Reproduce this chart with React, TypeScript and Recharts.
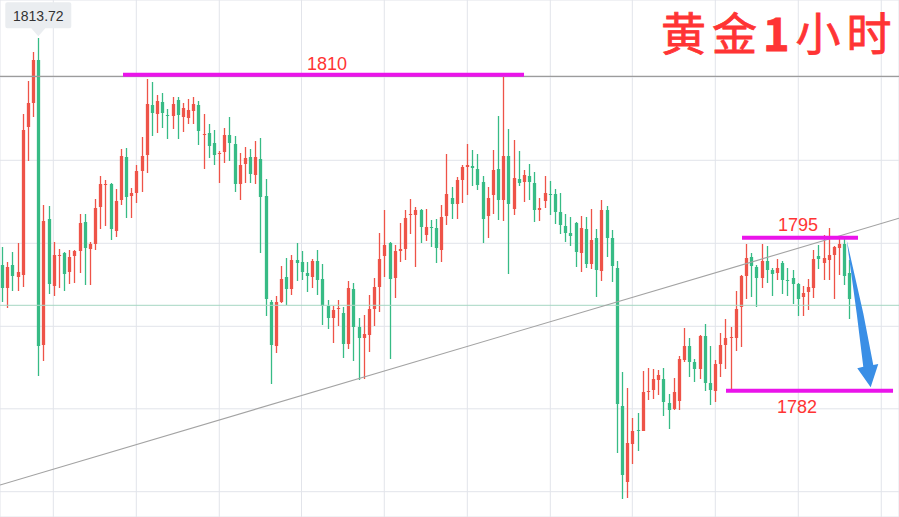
import React from "react";
import { ComposedChart, Bar, XAxis, YAxis, CartesianGrid, ReferenceLine, ReferenceDot } from "recharts";

const W = 899;
const H = 517;

const opens = [
  1791.0,1788.7,1791.0,1789.8,1790.0,1804.8,1807.2,1811.5,1783.0,1795.6,
  1788.9,1791.9,1792.2,1790.3,1791.9,1792.4,1795.3,1792.6,1793.1,1796.8,
  1799.0,1799.1,1794.4,1797.5,1801.8,1797.9,1798.2,1800.4,1802.0,1807.0,
  1806.1,1807.3,1806.0,1805.9,1807.5,1805.8,1805.7,1806.4,1807.0,1804.0,
  1804.2,1803.2,1802.1,1802.3,1804.0,1803.1,1799.1,1801.1,1801.8,1800.0,
  1801.6,1797.9,1787.3,1782.9,1787.3,1789.8,1788.6,1791.5,1791.3,1790.2,
  1789.8,1791.4,1789.6,1786.9,1785.7,1786.6,1786.2,1783.1,1788.6,1784.8,
  1783.7,1784.0,1786.6,1788.8,1791.9,1793.2,1789.7,1792.4,1792.6,1796.0,
  1796.0,1796.5,1794.0,1794.8,1794.7,1792.5,1795.9,1797.7,1797.1,1799.5,
  1800.8,1800.9,1800.6,1799.3,1795.9,1798.0,1800.6,1797.5,1801.9,1796.6,
  1799.6,1799.3,1799.9,1799.2,1796.5,1797.4,1798.1,1798.1,1796.3,1794.9,
  1794.2,1795.2,1792.2,1794.6,1791.1,1793.7,1790.4,1796.5,1793.7,1790.7,
  1776.9,1769.3,1773.1,1774.5,1774.4,1778.3,1778.5,1779.5,1779.6,1777.2,
  1776.6,1777.4,1781.5,1782.9,1781.3,1780.6,1783.9,1779.2,1778.4,1781.1,
  1783.0,1783.7,1783.7,1786.8,1789.9,1791.8,1790.8,1789.7,1791.4,1790.5,
  1790.2,1791.2,1789.5,1789.7,1789.1,1787.8,1788.3,1788.7,1791.9,1791.2,
  1791.5,1792.0,1792.7,1793.1,1790.2,
];

const closes = [
  1788.7,1790.8,1789.9,1790.3,1804.5,1807.2,1811.5,1782.9,1795.4,1789.1,
  1792.0,1792.0,1790.1,1791.8,1792.4,1795.2,1792.7,1793.1,1796.7,1799.1,
  1799.1,1794.6,1797.4,1801.9,1797.8,1798.2,1800.4,1801.9,1807.1,1806.2,
  1807.4,1806.2,1805.9,1807.1,1806.0,1806.7,1806.5,1807.1,1804.4,1804.1,
  1802.9,1802.0,1802.2,1804.0,1803.2,1799.1,1801.0,1801.7,1800.1,1801.8,
  1797.8,1787.6,1783.0,1787.3,1789.6,1788.6,1791.5,1791.2,1790.3,1789.9,
  1791.4,1789.5,1786.9,1785.7,1786.5,1786.7,1783.1,1788.7,1784.8,1783.7,
  1784.1,1786.6,1788.8,1791.6,1793.0,1789.6,1792.4,1792.6,1795.7,1796.1,
  1796.5,1794.8,1794.8,1794.7,1792.7,1795.8,1798.1,1797.1,1799.5,1800.8,
  1801.0,1800.7,1799.0,1795.6,1797.7,1800.5,1797.5,1801.9,1797.1,1799.7,
  1799.2,1800.0,1799.3,1796.5,1796.7,1798.2,1798.0,1796.3,1795.0,1794.2,
  1793.9,1792.3,1794.7,1791.1,1793.5,1790.5,1796.5,1793.7,1790.9,1777.1,
  1770.0,1773.2,1774.4,1774.4,1778.3,1778.4,1779.6,1780.0,1777.3,1776.5,
  1778.3,1781.6,1782.9,1781.3,1780.6,1783.9,1779.2,1778.5,1781.1,1783.0,
  1783.7,1783.8,1786.6,1789.9,1791.7,1790.9,1789.7,1791.4,1790.5,1790.1,
  1790.7,1789.5,1789.4,1789.1,1787.6,1788.2,1788.8,1791.6,1791.6,1791.7,
  1792.0,1792.8,1793.1,1789.9,1787.6,
];

const highs = [
  1792.8,1791.3,1792.3,1793.2,1806.1,1809.4,1812.3,1813.72,1797.0,1796.9,
  1793.3,1792.6,1792.3,1792.5,1792.5,1796.1,1796.1,1793.3,1797.6,1799.9,
  1799.5,1799.2,1798.6,1802.6,1802.7,1798.7,1801.0,1803.8,1809.6,1809.3,
  1808.0,1808.2,1806.6,1807.8,1807.8,1807.2,1807.6,1807.8,1807.4,1806.1,
  1805.1,1804.5,1802.4,1804.7,1805.8,1803.9,1802.2,1802.8,1802.6,1803.4,
  1803.7,1799.6,1787.5,1787.9,1790.9,1791.7,1792.0,1793.2,1792.4,1791.3,
  1791.6,1792.5,1791.1,1787.5,1786.9,1787.5,1786.8,1789.4,1789.2,1785.7,
  1786.0,1788.0,1789.7,1794.2,1796.5,1793.3,1793.0,1795.2,1796.5,1797.6,
  1796.8,1796.6,1796.6,1795.5,1795.6,1797.0,1802.1,1798.8,1799.8,1801.0,
  1803.1,1802.5,1802.1,1799.9,1798.8,1802.5,1805.9,1809.9,1804.6,1803.5,
  1802.4,1800.5,1801.1,1800.3,1797.7,1799.9,1799.4,1798.6,1798.2,1796.1,
  1795.8,1795.3,1795.9,1795.8,1796.6,1794.6,1797.5,1796.9,1794.5,1791.4,
  1780.3,1778.7,1775.7,1776.2,1780.4,1780.7,1780.6,1780.5,1780.7,1778.1,
  1779.7,1781.9,1784.7,1783.7,1781.6,1784.0,1785.1,1782.9,1781.5,1784.2,
  1785.6,1784.8,1788.4,1790.0,1793.1,1792.2,1791.0,1793.1,1792.9,1790.7,
  1791.6,1791.4,1790.7,1790.5,1789.2,1788.9,1789.6,1792.5,1793.0,1794.0,
  1794.7,1792.9,1793.7,1793.6,1791.5,
];

const lows = [
  1787.3,1786.7,1788.4,1788.4,1788.8,1801.4,1805.8,1779.9,1781.4,1788.1,
  1787.9,1788.7,1788.4,1789.1,1789.2,1790.2,1789.0,1789.0,1792.5,1794.6,
  1794.9,1793.5,1793.8,1797.0,1795.7,1795.7,1797.2,1798.3,1800.2,1803.9,
  1804.2,1804.7,1803.6,1804.6,1803.6,1804.3,1805.1,1805.1,1803.0,1800.6,
  1801.7,1801.0,1799.2,1801.2,1801.4,1798.3,1797.5,1799.2,1799.2,1799.1,
  1792.2,1785.9,1779.1,1782.2,1787.2,1787.0,1788.0,1789.4,1789.5,1788.3,
  1788.7,1788.0,1785.0,1784.6,1783.2,1784.9,1781.7,1782.6,1781.4,1779.5,
  1779.6,1782.3,1784.9,1786.3,1789.8,1781.6,1787.7,1791.3,1791.5,1794.1,
  1790.8,1793.2,1793.4,1792.8,1791.2,1791.3,1795.0,1795.6,1795.6,1797.2,
  1798.0,1798.9,1798.5,1793.2,1793.7,1796.1,1795.5,1795.4,1790.1,1796.0,
  1798.9,1797.3,1797.5,1795.3,1795.4,1796.7,1796.0,1795.1,1794.1,1793.3,
  1792.9,1790.8,1790.3,1790.7,1790.6,1787.8,1789.4,1791.8,1789.3,1772.2,
  1767.6,1767.7,1771.1,1772.4,1774.4,1777.5,1777.6,1778.0,1775.9,1774.6,
  1776.5,1776.5,1781.3,1779.8,1779.3,1779.6,1778.4,1777.0,1777.3,1779.8,
  1780.6,1778.4,1782.4,1782.8,1787.6,1787.8,1786.8,1788.7,1789.2,1787.9,
  1789.5,1788.1,1787.9,1787.1,1785.9,1785.9,1786.5,1787.7,1790.6,1789.5,
  1789.5,1787.6,1790.0,1789.0,1785.6,
];

const emptySlotsAfterLast = 9;
const slotCount = opens.length + emptySlotsAfterLast;
const candleRows = Array.from({ length: slotCount }, (_, i) => ({
  slot: i,
  open: i < opens.length ? opens[i] : null,
  close: i < opens.length ? closes[i] : null,
  high: i < opens.length ? highs[i] : null,
  low: i < opens.length ? lows[i] : null,
}));

const priceTop = 1817.5;
const priceBottom = 1765.8;
const gridPrices = [1809.8, 1801.47, 1793.17, 1784.87, 1776.62, 1768.33];
const gridSlots = [10.26, 26.23, 42.2, 58.02, 73.95, 89.93, 105.9, 121.68, 137.65, 153.62, 169.59];

const priceLine = 1809.87;
const lastPriceLine = 1786.97;
const trendLine = [
  { x: 0, y: 1769.0 },
  { x: 173, y: 1795.67 },
];
const resistanceTop = [
  { x: 23.67, y: 1810.03 },
  { x: 100.84, y: 1810.03 },
];
const resistanceRecent = [
  { x: 142.79, y: 1793.73 },
  { x: 165.11, y: 1793.73 },
];
const supportLine = [
  { x: 139.71, y: 1778.43 },
  { x: 171.85, y: 1778.43 },
];

const UP = "#ee5348";
const DOWN = "#37bb85";
const MAGENTA = "#ea14ea";
const RED_TEXT = "#ff3434";
const LATIN = "'Liberation Sans', Arial, sans-serif";

function Candle(props: any) {
  const { x, y, width, height, payload } = props;
  if (!payload || payload.high == null || !height) return null;
  const perUnit = height / (payload.high - payload.low);
  const px = Math.floor(x + width / 2 + 0.1);
  const top = Math.max(payload.open, payload.close);
  const bottom = Math.min(payload.open, payload.close);
  const bodyY = Math.round(y + (payload.high - top) * perUnit);
  const bodyH = Math.max(1, Math.round((top - bottom) * perUnit));
  const color = payload.close >= payload.open ? UP : DOWN;
  return (
    <g fill={color}>
      <rect x={px - 0.15} y={Math.round(y)} width={1.3} height={Math.max(1, Math.round(height))} />
      <rect x={px - 1.15} y={bodyY} width={3.3} height={bodyH} />
    </g>
  );
}

const chartLabel = (text: string, size: number) => (p: any) => (
  <text x={p.cx} y={p.cy} textAnchor="middle" fontFamily={LATIN} fontSize={size} fill={RED_TEXT}>
    {text}
  </text>
);

const PeakCallout = (p: any) => (
  <g>
    <path
      d={`M${p.cx - 31} ${p.cy - 35.5} h62 a2 2 0 0 1 2 2 v22 a2 2 0 0 1 -2 2 h-24 l-7 8 l-7 -8 h-24 a2 2 0 0 1 -2 -2 v-22 a2 2 0 0 1 2 -2 z`}
      fill="#eaedf0"
    />
    <text x={p.cx} y={p.cy - 17} textAnchor="middle" fontFamily={LATIN} fontSize={14} fill="#333">
      1813.72
    </text>
  </g>
);

const TitleText = (p: any) => (
  <text
    x={p.cx}
    y={p.cy}
    fontFamily="'Noto Sans CJK SC', sans-serif"
    fontWeight={400}
    fontSize={45}
    letterSpacing={6}
    fill={RED_TEXT}
    stroke={RED_TEXT}
    strokeWidth={0.8}
  >
    黄金<tspan fontWeight={700}>1</tspan>小时
  </text>
);

const ArrowHead = (p: any) => {
  const pts = [
    [-24, -147.3],
    [-7.4, -74],
    [2.6, -22.3],
    [7.6, -23.3],
    [0, 0],
    [-13.4, -19],
    [-7.4, -20.6],
    [-14, -74],
  ];
  return <polygon points={pts.map(([dx, dy]) => `${p.cx + dx},${p.cy + dy}`).join(" ")} fill="#3a8fe6" />;
};

const axisPair = { xAxisId: "t", yAxisId: "p" } as const;

export default function App() {
  return (
    <div style={{ position: "absolute", left: 0, top: 0, width: W, height: H, background: "#fff" }}>
      <ComposedChart
        width={W}
        height={H}
        data={candleRows}
        margin={{ top: 0, right: 0, bottom: 0, left: 0 }}
        barCategoryGap={0}
      >
        <XAxis xAxisId="c" dataKey="slot" type="category" hide />
        <XAxis xAxisId="t" dataKey="slot" type="number" domain={[0, slotCount - 1]} ticks={gridSlots} hide allowDataOverflow />
        <YAxis yAxisId="p" type="number" domain={[priceBottom, priceTop]} ticks={gridPrices} hide allowDataOverflow />
        <CartesianGrid {...axisPair} stroke="#e2e4ea" strokeWidth={1} />
        <ReferenceLine {...axisPair} y={priceLine} stroke="#9c9c9c" strokeWidth={1.2} />
        <ReferenceLine {...axisPair} y={lastPriceLine} stroke="#a6d6c2" strokeWidth={1} />
        <ReferenceLine {...axisPair} segment={trendLine} stroke="#a3a3a3" strokeWidth={1.1} ifOverflow="visible" />
        <Bar
          xAxisId="c"
          yAxisId="p"
          dataKey={(d: any) => (d.high == null ? null : [d.low, d.high])}
          shape={Candle}
          isAnimationActive={false}
        />
        <ReferenceLine {...axisPair} segment={resistanceTop} stroke={MAGENTA} strokeWidth={4} />
        <ReferenceLine {...axisPair} segment={resistanceRecent} stroke={MAGENTA} strokeWidth={4} />
        <ReferenceLine {...axisPair} segment={supportLine} stroke={MAGENTA} strokeWidth={4} />
        <ReferenceDot {...axisPair} x={62.93} y={1810.5} shape={chartLabel("1810", 18)} ifOverflow="visible" />
        <ReferenceDot {...axisPair} x={153.56} y={1794.4} shape={chartLabel("1795", 18)} ifOverflow="visible" />
        <ReferenceDot {...axisPair} x={153.37} y={1776.2} shape={chartLabel("1782", 18)} ifOverflow="visible" />
        <ReferenceDot {...axisPair} x={7.37} y={1813.72} shape={PeakCallout} ifOverflow="visible" />
        <ReferenceDot {...axisPair} x={127.2} y={1812.4} shape={TitleText} ifOverflow="visible" />
        <ReferenceDot {...axisPair} x={167.55} y={1778.77} shape={ArrowHead} ifOverflow="visible" />
      </ComposedChart>
    </div>
  );
}
